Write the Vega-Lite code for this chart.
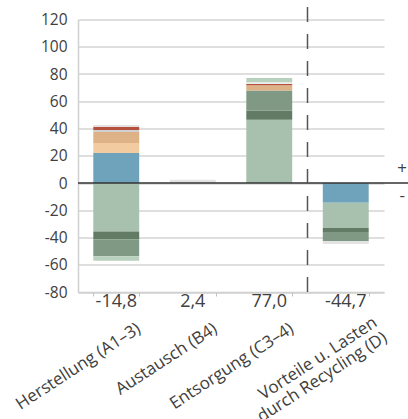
{
  "$schema": "https://vega.github.io/schema/vega-lite/v6.json",
  "width": 306,
  "height": 272.5,
  "autosize": {"type": "none"},
  "padding": {"left": 78, "top": 19.5, "right": 24, "bottom": 127},
  "config": {
    "view": {"stroke": null},
    "font": "Open Sans",
    "axis": {"labelFont": "Open Sans", "labelColor": "#404040", "domainColor": "#d0d0d0", "domainWidth": 1.5, "tickColor": "#c0c0c0", "gridColor": "#d4d4d4", "gridWidth": 1.5},
    "axisY": {"labelOverlap": false, "labelFontSize": 15.5, "labelPadding": 11, "ticks": false, "grid": true},
    "axisX": {"labelOverlap": false}
  },
  "datasets": {
    "segs": [
      {"cat": "Herstellung (A1–3)", "comp": "K1", "o": 1, "v": 22.0},
      {"cat": "Herstellung (A1–3)", "comp": "K2", "o": 2, "v": 7.3},
      {"cat": "Herstellung (A1–3)", "comp": "K3", "o": 3, "v": 8.1},
      {"cat": "Herstellung (A1–3)", "comp": "K4", "o": 4, "v": 1.5},
      {"cat": "Herstellung (A1–3)", "comp": "K5", "o": 5, "v": 2.4},
      {"cat": "Herstellung (A1–3)", "comp": "K6", "o": 6, "v": 1.2},
      {"cat": "Herstellung (A1–3)", "comp": "K7", "o": 7, "v": -35.6},
      {"cat": "Herstellung (A1–3)", "comp": "K8", "o": 8, "v": -5.9},
      {"cat": "Herstellung (A1–3)", "comp": "K9", "o": 9, "v": -12.2},
      {"cat": "Herstellung (A1–3)", "comp": "K10", "o": 10, "v": -3.4},
      {"cat": "Austausch (B4)", "comp": "K6", "o": 1, "v": 2.4},
      {"cat": "Entsorgung (C3–4)", "comp": "K7", "o": 1, "v": 46.5},
      {"cat": "Entsorgung (C3–4)", "comp": "K8", "o": 2, "v": 6.6},
      {"cat": "Entsorgung (C3–4)", "comp": "K9", "o": 3, "v": 14.7},
      {"cat": "Entsorgung (C3–4)", "comp": "K3", "o": 4, "v": 3.9},
      {"cat": "Entsorgung (C3–4)", "comp": "K5", "o": 5, "v": 1.0},
      {"cat": "Entsorgung (C3–4)", "comp": "K11", "o": 6, "v": 1.2},
      {"cat": "Entsorgung (C3–4)", "comp": "K10", "o": 7, "v": 3.1},
      {"cat": "Vorteile u. Lasten durch Recycling (D)", "comp": "K1", "o": 1, "v": -14.5},
      {"cat": "Vorteile u. Lasten durch Recycling (D)", "comp": "K7", "o": 2, "v": -18.5},
      {"cat": "Vorteile u. Lasten durch Recycling (D)", "comp": "K8", "o": 3, "v": -2.9},
      {"cat": "Vorteile u. Lasten durch Recycling (D)", "comp": "K9", "o": 4, "v": -6.7},
      {"cat": "Vorteile u. Lasten durch Recycling (D)", "comp": "K6", "o": 5, "v": -2.1}
    ],
    "totals": [
      {"cat": "Herstellung (A1–3)", "label": "-14,8"},
      {"cat": "Austausch (B4)", "label": "2,4"},
      {"cat": "Entsorgung (C3–4)", "label": "77,0"},
      {"cat": "Vorteile u. Lasten durch Recycling (D)", "label": "-44,7"}
    ]
  },
  "layer": [
    {
      "data": {"name": "segs"},
      "mark": {"type": "bar"},
      "encoding": {
        "x": {
          "field": "cat", "type": "nominal", "sort": null,
          "scale": {"domain": ["Herstellung (A1–3)", "Austausch (B4)", "Entsorgung (C3–4)", "Vorteile u. Lasten durch Recycling (D)"], "paddingInner": 0.4, "paddingOuter": 0.2},
          "axis": {
            "title": null, "labelAngle": -33, "labelAlign": "right", "labelBaseline": "top",
            "labelFontSize": 17,
            "labelOffset": {"condition": {"test": "datum.value == 'Vorteile u. Lasten durch Recycling (D)'", "value": 25}, "value": 18},
            "labelPadding": {"condition": {"test": "datum.value == 'Vorteile u. Lasten durch Recycling (D)'", "value": 18}, "value": 24},
            "tickBand": "extent", "tickSize": 4,
            "labelExpr": "datum.value == 'Vorteile u. Lasten durch Recycling (D)' ? ['Vorteile u. Lasten\u00a0\u00a0\u00a0\u00a0\u00a0\u00a0\u00a0', 'durch Recycling (D)'] : datum.label",
            "labelLineHeight": 18, "labelLimit": 300
          }
        },
        "y": {
          "field": "v", "type": "quantitative", "stack": "zero",
          "scale": {"domain": [-80, 120], "nice": false, "zero": false},
          "axis": {"title": null, "tickCount": 10, "labelOverlap": false, "labelExpr": "replace(datum.label, '−', '-')"}
        },
        "color": {
          "field": "comp", "type": "nominal", "legend": null,
          "scale": {
            "domain": ["K1", "K2", "K3", "K4", "K5", "K6", "K7", "K8", "K9", "K10", "K11"],
            "range": ["#6FA3BC", "#F3CBA0", "#DDB287", "#D0D0D0", "#B5503F", "#E3E3E3", "#A8C0AE", "#627B65", "#7F9985", "#B8D1BE", "#E8EEE9"]
          }
        },
        "order": {"field": "o", "type": "quantitative"}
      }
    },
    {
      "data": {"values": [{}]},
      "mark": {"type": "rule", "color": "#333333", "strokeWidth": 1.5},
      "encoding": {
        "y": {"datum": 0},
        "x": {"datum": "Herstellung (A1–3)", "bandPosition": -0.3333},
        "x2": {"datum": "Vorteile u. Lasten durch Recycling (D)", "bandPosition": 1.86}
      }
    },
    {
      "data": {"values": [{}]},
      "mark": {"type": "rule", "color": "#555555", "strokeWidth": 1.5, "strokeDash": [15, 12]},
      "encoding": {
        "x": {"datum": "Vorteile u. Lasten durch Recycling (D)", "bandPosition": -0.3333},
        "y": {"datum": -80},
        "y2": {"datum": 134}
      }
    },
    {
      "data": {"name": "totals"},
      "mark": {"type": "text", "fontSize": 18, "fill": "#404040", "baseline": "middle", "dy": 10},
      "encoding": {
        "x": {"field": "cat", "type": "nominal"},
        "y": {"datum": -80},
        "text": {"field": "label"}
      }
    },
    {
      "data": {"values": [{"s": "+"}]},
      "mark": {"type": "text", "fontSize": 17, "fill": "#404040", "baseline": "middle"},
      "encoding": {
        "x": {"datum": "Vorteile u. Lasten durch Recycling (D)", "bandPosition": 1.73},
        "y": {"datum": 10.5},
        "text": {"field": "s"}
      }
    },
    {
      "data": {"values": [{"s": "-"}]},
      "mark": {"type": "text", "fontSize": 17, "fill": "#404040", "baseline": "middle"},
      "encoding": {
        "x": {"datum": "Vorteile u. Lasten durch Recycling (D)", "bandPosition": 1.73},
        "y": {"datum": -9.5},
        "text": {"field": "s"}
      }
    }
  ]
}
